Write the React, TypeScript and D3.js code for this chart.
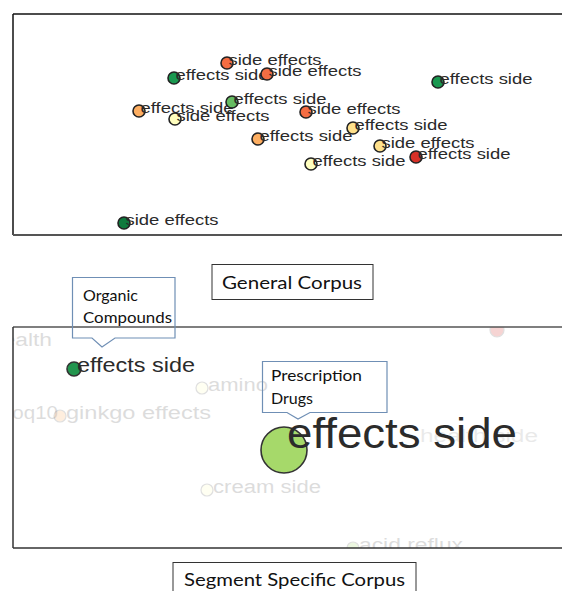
import React from "react";
import * as d3 from "d3";

// ---------- General corpus (top panel) ----------
const topLabels = [
  "side effects", "effects side", "side effects", "effects side",
  "effects side", "effects side", "side effects", "side effects",
  "effects side", "effects side", "side effects", "effects side",
  "effects side", "side effects",
];
const topX = [214, 161, 254, 425, 126, 219, 162, 293, 340, 245, 367, 298, 403, 111];
const topY = [49, 64, 60, 68, 97, 88, 105, 98, 114, 125, 132, 150, 143, 209];
const topColors = [
  "#f46d43", "#1a9850", "#f46d43", "#1a9850",
  "#fdae61", "#66bd63", "#ffffbf", "#f46d43",
  "#fee08b", "#fdae61", "#fee08b", "#ffffbf",
  "#d73027", "#0f7a3d",
];

// ---------- Segment specific corpus (bottom panel) ----------
const botLabels = ["health", "amino", "coq10", "ginkgo effects", "cream side", "health side", "", "acid reflux"];
const botX = [-29, 189, -17, 47, 194, 401, 484, 340];
const botY = [16, 61, 89, 89, 163, 112, 3, 221];
const botColors = ["none", "#ffffbf", "none", "#fdae61", "#ffffbf", "none", "#d73027", "#a6d96a"];
const botTextLen = [62, 60, 56, 145, 108, 118, 0, 104];
const botOpacity = [0.2, 0.2, 0.2, 0.2, 0.2, 0.12, 0.2, 0.2];

const focusLabels = ["effects side", "effects side"];
const focusX = [61, 271];
const focusY = [42, 123];
const focusR = [7, 23];
const focusColors = ["#23954e", "#a6d96a"];
const focusFont = [20, 42];
const focusTextLen = [118, 230];

const sansFont = "'Liberation Sans', Arial, sans-serif";
const noteFont = "Lato, 'Open Sans', sans-serif";

export default function App() {
  const W = 562, H = 591;
  const xTop = d3.scaleLinear().domain([0, 550]).range([13, 563]);
  const yTop = d3.scaleLinear().domain([0, 221]).range([14, 235]);
  const xBot = d3.scaleLinear().domain([0, 550]).range([13, 563]);
  const yBot = d3.scaleLinear().domain([0, 221]).range([327, 548]);

  const callout = (x0: number, y0: number, x1: number, y1: number, pa: number, pb: number, tipX: number, tipY: number) =>
    `M${x0},${y0}H${x1}V${y1}H${pb}L${tipX},${tipY}L${pa},${y1}H${x0}Z`;

  return (
    <svg width={W} height={H} style={{ position: "absolute", left: 0, top: 0, background: "#fff" }}>
      <defs>
        <clipPath id="botClip">
          <rect x={13} y={327} width={549} height={221} />
        </clipPath>
      </defs>

      {/* Top panel frame */}
      <rect x={0} y={0} width={W} height={H} fill="#fff" />
      <line x1={13} y1={14} x2={562} y2={14} stroke="#111" strokeWidth={1.5} />
      <line x1={13} y1={14} x2={13} y2={235} stroke="#111" strokeWidth={1.5} />
      <line x1={13} y1={235} x2={562} y2={235} stroke="#555" strokeWidth={2} />

      {topLabels.map((lab, i) => {
        const cx = xTop(topX[i]);
        const cy = yTop(topY[i]);
        return (
          <g key={"t" + i}>
            <circle cx={cx} cy={cy} r={6} fill={topColors[i]} stroke="#222" strokeWidth={1.6} />
            <text x={cx + 1.5} y={cy + 2} fontFamily={sansFont} fontSize={15} fill="#2a2a2a"
              textLength={93} lengthAdjust="spacingAndGlyphs">{lab}</text>
          </g>
        );
      })}

      {/* General Corpus label */}
      <rect x={212} y={264.5} width={161} height={35} fill="#fff" stroke="#333" strokeWidth={1} />
      <text x={222} y={289} fontFamily={noteFont} fontSize={18} fill="#111" textLength={140} lengthAdjust="spacingAndGlyphs">General Corpus</text>

      {/* Bottom panel */}
      <g clipPath="url(#botClip)">
        {botLabels.map((lab, i) => {
          const cx = xBot(botX[i]);
          const cy = yBot(botY[i]);
          return (
            <g key={"b" + i} opacity={botOpacity[i]}>
              {botColors[i] !== "none" && (
                <circle cx={cx} cy={cy} r={i === 6 ? 7 : 6} fill={botColors[i]} stroke="#666" strokeWidth={1.2} />
              )}
              {lab && (
                <text x={cx + 6} y={cy + 3} fontFamily={sansFont} fontSize={18} fill="#555"
                  textLength={botTextLen[i]} lengthAdjust="spacingAndGlyphs">{lab}</text>
              )}
            </g>
          );
        })}
        {focusLabels.map((lab, i) => {
          const cx = xBot(focusX[i]);
          const cy = yBot(focusY[i]);
          return (
            <g key={"f" + i}>
              <circle cx={cx} cy={cy} r={focusR[i]} fill={focusColors[i]} stroke="#333" strokeWidth={1.6} />
              <text x={cx + 3} y={cy + (i === 0 ? 3 : -2)} fontFamily={sansFont} fontSize={focusFont[i]} fill="#2b2b2b"
                textLength={focusTextLen[i]} lengthAdjust="spacingAndGlyphs">{lab}</text>
            </g>
          );
        })}
      </g>
      <line x1={13} y1={327} x2={562} y2={327} stroke="#555" strokeWidth={1.5} />
      <line x1={13} y1={327} x2={13} y2={548} stroke="#333" strokeWidth={1.5} />
      <line x1={13} y1={548} x2={562} y2={548} stroke="#333" strokeWidth={1.5} />

      {/* Callouts */}
      <path d={callout(72.5, 277.5, 175, 338, 92, 115, 102, 347)} fill="none" stroke="#6f8fb5" strokeWidth={1.2} />
      <text x={83} y={301} fontFamily={noteFont} fontSize={16} fill="#111">Organic</text>
      <text x={83} y={323} fontFamily={noteFont} fontSize={16} fill="#111" textLength={89} lengthAdjust="spacingAndGlyphs">Compounds</text>

      <path d={callout(262.5, 361.5, 387, 412.5, 287, 310, 298, 419)} fill="none" stroke="#6f8fb5" strokeWidth={1.2} />
      <text x={271} y={381} fontFamily={noteFont} fontSize={16} fill="#111" textLength={91} lengthAdjust="spacingAndGlyphs">Prescription</text>
      <text x={271} y={404} fontFamily={noteFont} fontSize={16} fill="#111">Drugs</text>

      {/* Segment Specific Corpus label */}
      <rect x={173} y={562.5} width={243} height={40} fill="#fff" stroke="#333" strokeWidth={1} />
      <text x={184} y={586} fontFamily={noteFont} fontSize={18} fill="#111" textLength={221} lengthAdjust="spacingAndGlyphs">Segment Specific Corpus</text>
    </svg>
  );
}
